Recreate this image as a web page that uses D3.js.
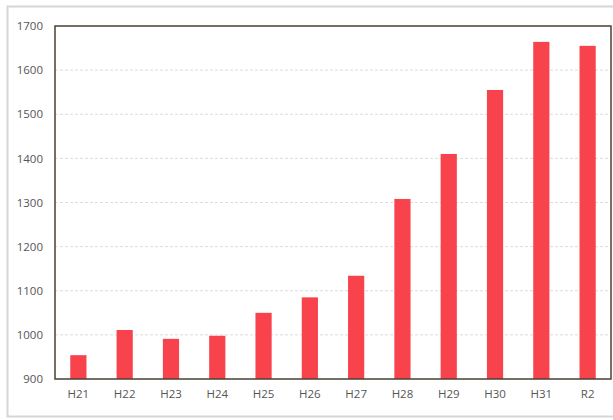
<!DOCTYPE html>
<html>
<head>
<meta charset="utf-8">
<script src="https://cdn.jsdelivr.net/npm/d3@7"></script>
<style>
	body { margin: 0; background: #fff; }
	text { font-family: "Open Sans", "DejaVu Sans", sans-serif; }
</style>
</head>
<body>
<div id="chart"></div>
<script>
// Données
const annees = ["H21", "H22", "H23", "H24", "H25", "H26", "H27", "H28", "H29", "H30", "H31", "R2"];
const valeurs = [954, 1011, 991, 998, 1050, 1085, 1134, 1308, 1410, 1555, 1664, 1655];
const graduations = [900, 1000, 1100, 1200, 1300, 1400, 1500, 1600, 1700];

const width = 613, height = 420;
const marge = {top: 26, right: 2, bottom: 41, left: 55};

const svg = d3.select("#chart")
	.append("svg")
	.attr("width", width)
	.attr("height", height);

// cadre extérieur gris clair
svg.append("rect")
	.attr("x", 7.5).attr("y", 6.5)
	.attr("width", 620).attr("height", 410)
	.attr("fill", "none")
	.attr("stroke", "#d6d6d6")
	.attr("stroke-width", 2);

const x = d3.scaleBand()
	.domain(annees)
	.range([marge.left, width - marge.right])
	.paddingInner(0.65)
	.paddingOuter(0.33);

const y = d3.scaleLinear()
	.domain([900, 1700])
	.range([height - marge.bottom, marge.top]);

// lignes de grille
svg.append("g")
	.selectAll("line")
	.data(graduations.slice(1, -1))
	.enter()
	.append("line")
	.attr("x1", marge.left).attr("x2", width - marge.right)
	.attr("y1", d => y(d)).attr("y2", d => y(d))
	.style("stroke", "#dcdcdc")
	.style("stroke-width", 1)
	.style("stroke-dasharray", "3,2");

// barres
svg.append("g")
	.selectAll("rect")
	.data(valeurs)
	.enter()
	.append("rect")
	.attr("x", (d, i) => x(annees[i]))
	.attr("y", d => y(d))
	.attr("width", x.bandwidth())
	.attr("height", d => y(900) - y(d))
	.attr("fill", "#f8434d");

// cadre de la zone de tracé
svg.append("rect")
	.attr("x", marge.left).attr("y", marge.top)
	.attr("width", width - marge.left - marge.right)
	.attr("height", height - marge.top - marge.bottom)
	.attr("fill", "none")
	.style("stroke", "#4a4032")
	.style("stroke-width", 1.5);

// axe Y
const axeY = svg.append("g")
	.attr("transform", "translate(" + marge.left + ",0)")
	.call(d3.axisLeft(y).tickValues(graduations).tickFormat(d3.format("d")).tickSize(0).tickPadding(12));
axeY.select(".domain").remove();
axeY.selectAll("text")
	.style("font-size", "11.5px")
	.style("fill", "#555");

// axe X
const axeX = svg.append("g")
	.attr("transform", "translate(0," + (height - marge.bottom) + ")")
	.call(d3.axisBottom(x).tickSize(0).tickPadding(11));
axeX.select(".domain").remove();
axeX.selectAll("text")
	.style("font-size", "11.5px")
	.style("fill", "#555");
</script>
</body>
</html>
